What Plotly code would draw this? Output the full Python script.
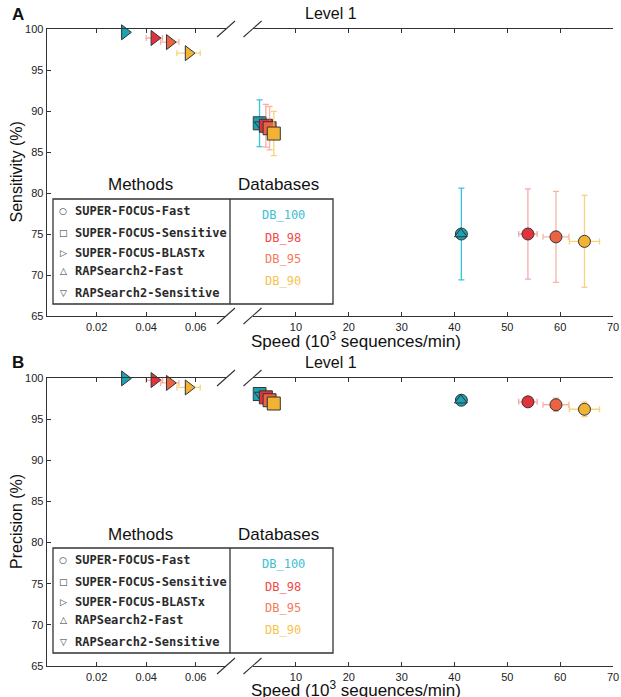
import plotly.graph_objects as go

W, H = 621, 697


def px(x):
    return x / W


def py(y):
    return 1 - y / H


# ---------------- data ----------------
dbs = ["DB_100", "DB_98", "DB_95", "DB_90"]
marker_colors = ["#1ba3b5", "#e2333d", "#ea6342", "#f2b335"]
err_colors = ["rgba(40,195,215,0.95)", "rgba(238,100,100,0.55)",
              "rgba(240,120,90,0.55)", "rgba(245,195,80,0.75)"]
label_colors = ["#3cc0d2", "#f04a4a", "#f57b5a", "#f6c44e"]

methods = ["SUPER-FOCUS-Fast", "SUPER-FOCUS-Sensitive", "SUPER-FOCUS-BLASTx",
           "RAPSearch2-Fast", "RAPSearch2-Sensitive"]
method_glyphs = ["○", "□", "▷", "△", "▽"]

# speed (10^3 sequences/min)
blastx_speed = [0.0314, 0.0433, 0.0495, 0.0571]
blastx_speed_err = [0.0008, 0.0033, 0.0037, 0.0047]
sensitive_speed = [3.1, 4.3, 5.0, 5.8]
sensitive_speed_err = [0.2, 0.3, 0.35, 0.4]
fast_speed = [41.3, 53.9, 59.2, 64.6]
fast_speed_err = [0.3, 1.75, 2.45, 2.85]
rap_fast_speed = [41.2]
rap_sensitive_speed = [3.1]

# sensitivity (%)
blastx_sens = [99.6, 98.9, 98.4, 97.05]
sensitive_sens = [88.5, 88.2, 87.9, 87.25]
sensitive_sens_err = [2.85, 2.6, 2.65, 2.7]
fast_sens = [75.0, 75.0, 74.65, 74.1]
fast_sens_err = [5.6, 5.5, 5.55, 5.6]
rap_fast_sens = [75.0]
rap_sensitive_sens = [88.4]

# precision (%)
blastx_prec = [99.95, 99.75, 99.4, 98.85]
sensitive_prec = [98.05, 97.65, 97.3, 96.9]
sensitive_prec_err = [0.3, 0.3, 0.3, 0.35]
fast_prec = [97.3, 97.1, 96.75, 96.2]
fast_prec_err = [0.25, 0.5, 0.8, 0.9]
rap_fast_prec = [97.3]
rap_sensitive_prec = [98.0]

y_ticks = [65, 70, 75, 80, 85, 90, 95, 100]
left_ticks = [0.02, 0.04, 0.06]
left_tick_text = ["0.02", "0.04", "0.06"]
right_ticks = [10, 20, 30, 40, 50, 60, 70]

# ---------------- layout geometry (window pixels) ----------------
PLOT_L, BREAK_L, BREAK_R, PLOT_R = 47, 226, 252.5, 613
panels = [
    dict(letter="A", top=29, bottom=316, ylabel="Sensitivity (%)", xtitle_dy=24,
         xl="x", xr="x2", y="y", yo="y3",
         blastx=blastx_sens, sens=sensitive_sens, sens_err=sensitive_sens_err,
         fast=fast_sens, fast_err=fast_sens_err,
         rapf=rap_fast_sens, raps=rap_sensitive_sens),
    dict(letter="B", top=378, bottom=666, ylabel="Precision (%)", xtitle_dy=22.5,
         xl="x3", xr="x4", y="y2", yo="y4",
         blastx=blastx_prec, sens=sensitive_prec, sens_err=sensitive_prec_err,
         fast=fast_prec, fast_err=fast_prec_err,
         rapf=rap_fast_prec, raps=rap_sensitive_prec),
]

fig = go.Figure()
EDGE = dict(color="#333333", width=1)

for p in panels:
    for i in range(4):
        fig.add_trace(go.Scatter(
            x=[blastx_speed[i]], y=[p["blastx"][i]], mode="markers",
            xaxis=p["xl"], yaxis=p["y"], showlegend=False, cliponaxis=False,
            marker=dict(symbol="triangle-right", size=13, color=marker_colors[i], line=EDGE),
            error_x=dict(type="data", array=[blastx_speed_err[i]], color=err_colors[i],
                         thickness=1.3, width=3)))
    for i in range(4):
        fig.add_trace(go.Scatter(
            x=[sensitive_speed[i]], y=[p["sens"][i]], mode="markers",
            xaxis=p["xr"], yaxis=p["y"], showlegend=False,
            marker=dict(symbol="square", size=13, color=marker_colors[i], line=EDGE),
            error_x=dict(type="data", array=[sensitive_speed_err[i]], color=err_colors[i],
                         thickness=1.3, width=3),
            error_y=dict(type="data", array=[p["sens_err"][i]], color=err_colors[i],
                         thickness=1.3, width=3)))
        if i == 0:
            fig.add_trace(go.Scatter(
                x=rap_sensitive_speed, y=p["raps"], mode="markers",
                xaxis=p["xr"], yaxis=p["y"], showlegend=False,
                marker=dict(symbol="triangle-down", size=9, color=marker_colors[0], line=EDGE)))
    for i in range(4):
        fig.add_trace(go.Scatter(
            x=[fast_speed[i]], y=[p["fast"][i]], mode="markers",
            xaxis=p["xr"], yaxis=p["y"], showlegend=False,
            marker=dict(symbol="circle", size=12, color=marker_colors[i], line=EDGE),
            error_x=dict(type="data", array=[fast_speed_err[i]], color=err_colors[i],
                         thickness=1.3, width=3),
            error_y=dict(type="data", array=[p["fast_err"][i]], color=err_colors[i],
                         thickness=1.3, width=3)))
        if i == 0:
            fig.add_trace(go.Scatter(
                x=rap_fast_speed, y=p["rapf"], mode="markers",
                xaxis=p["xr"], yaxis=p["y"], showlegend=False,
                marker=dict(symbol="triangle-up", size=11, color=marker_colors[0], line=EDGE)))

AX = dict(showline=True, linecolor="#333333", linewidth=1.4, ticks="inside",
          ticklen=4, tickcolor="#333333", showgrid=False, zeroline=False,
          automargin=False,
          tickfont=dict(family="Liberation Sans", size=11, color="#222222"))

layout = dict(template="none", width=W, height=H, margin=dict(l=0, r=0, t=0, b=0, pad=0),
              paper_bgcolor="white", plot_bgcolor="white", showlegend=False,
              hovermode=False,
              font=dict(family="Liberation Sans", color="#111111"))
shapes = []
annotations = []


def note(text, x, y, size, family="Liberation Sans", color="#111", xanchor="center", **kw):
    return dict(text=text, x=px(x), y=py(y), xref="paper", yref="paper",
                xanchor=xanchor, yanchor="middle", showarrow=False,
                font=dict(size=size, family=family, color=color), **kw)


for k, p in enumerate(panels):
    dom_y = [py(p["bottom"]), py(p["top"])]
    xl_name = "xaxis" if p["xl"] == "x" else "xaxis" + p["xl"][1:]
    xr_name = "xaxis" + p["xr"][1:]
    y_name = "yaxis" if p["y"] == "y" else "yaxis" + p["y"][1:]
    yo_name = "yaxis" + p["yo"][1:]
    layout[xl_name] = dict(AX, domain=[px(PLOT_L), px(BREAK_L)], range=[0, 0.0722],
                           anchor=p["y"], tickvals=left_ticks, ticktext=left_tick_text,
                           mirror="ticks")
    layout[xr_name] = dict(AX, domain=[px(BREAK_R), px(PLOT_R)], range=[1.77, 70],
                           anchor=p["y"], tickvals=right_ticks, mirror="ticks",
                           ticklabeloverflow="allow")
    layout[y_name] = dict(AX, domain=dom_y, range=[65, 100], anchor=p["xl"],
                          tickvals=y_ticks)
    layout[yo_name] = dict(AX, domain=dom_y, range=[65, 100], anchor=p["xr"],
                           overlaying=p["y"], side="right", tickvals=y_ticks,
                           showticklabels=False)

    top, bot = p["top"], p["bottom"]
    for cx in (BREAK_L, BREAK_R):
        for cy in (top, bot):
            shapes.append(dict(type="line", xref="paper", yref="paper",
                               x0=px(cx - 9), y0=py(cy + 8), x1=px(cx + 9), y1=py(cy - 8),
                               line=dict(color="#333333", width=1.1)))
    off = top - 29
    bx0, bx1, bdiv, by0, by1 = 53, 333, 230, 199 + off, 304 + off
    shapes.append(dict(type="rect", xref="paper", yref="paper",
                       x0=px(bx0), x1=px(bx1), y0=py(by1), y1=py(by0),
                       fillcolor="white", line=dict(color="#333333", width=1.3), layer="above"))
    shapes.append(dict(type="line", xref="paper", yref="paper",
                       x0=px(bdiv), x1=px(bdiv), y0=py(by1), y1=py(by0),
                       line=dict(color="#333333", width=1.3), layer="above"))
    annotations.append(note("Methods", 140, 185 + off, 17))
    annotations.append(note("Databases", 278, 185 + off, 17))
    row_y = [210.7, 232.7, 252.7, 270.7, 292.7]
    for j, m in enumerate(methods):
        annotations.append(note(method_glyphs[j], 63, row_y[j] + off, 9,
                                family="DejaVu Sans", color="#333"))
        annotations.append(note("<b>" + m + "</b>", 73, row_y[j] + off, 12,
                                family="DejaVu Sans Mono", color="#2a2a2a", xanchor="left"))
    db_y = [215, 237.7, 259.3, 281]
    for j, d in enumerate(dbs):
        annotations.append(note(d, 283, db_y[j] + off, 12, family="DejaVu Sans Mono",
                                color=label_colors[j]))
    annotations.append(note("Level 1", 331, top - 16, 16))
    annotations.append(note("<b>" + p["letter"] + "</b>", 18, top - 15, 17))
    annotations.append(note(p["ylabel"], 16, (top + bot) / 2, 16, textangle=-90))
    annotations.append(note("Speed (10<sup>3</sup> sequences/min)", 356, bot + p["xtitle_dy"], 17))

layout["shapes"] = shapes
layout["annotations"] = annotations
fig.update_layout(**layout)
fig.write_html("out.html", config={"displayModeBar": False, "staticPlot": True},
               post_script="document.body.style.margin='0';document.body.style.overflow='hidden';")
